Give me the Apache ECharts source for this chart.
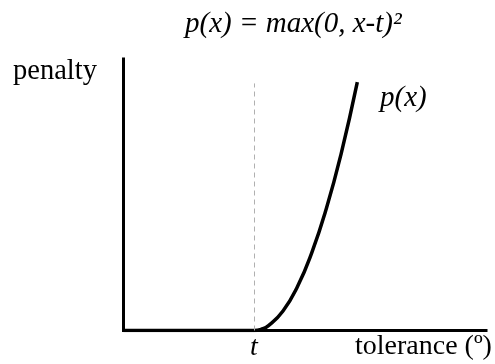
<!DOCTYPE html>
<html>
<head>
<meta charset="utf-8">
<script src="https://cdn.jsdelivr.net/npm/echarts@6/dist/echarts.min.js"></script>
<style>
  html, body { margin: 0; padding: 0; background: #fff; }
  #box { width: 495px; height: 364px; }
</style>
</head>
<body>
<div id="box"></div>
<script>
// values (x in % of axis length, y in % of axis height)
const tolerance = 36;
const penaltyX = [0, 36, 38, 40, 44, 48, 52, 56, 60, 64.5];
const penaltyY = [0, 0, 0.45, 1.8, 7.2, 16.2, 28.9, 45.1, 64.9, 91.5];
const dashTop = 91;

const serif = 'Liberation Serif, Times New Roman, serif';

const chartDom = document.getElementById('box');
const myChart = echarts.init(chartDom);

const axisCommon = {
  type: 'value',
  min: 0,
  max: 100,
  axisLine: { show: true, lineStyle: { color: '#000', width: 3, cap: 'square' } },
  axisTick: { show: false },
  axisLabel: { show: false },
  splitLine: { show: false }
};

const txt = (text, left, top, italic, size) => ({
  type: 'text', left: left, top: top,
  style: {
    text: text, fill: '#000',
    fontFamily: serif, fontSize: size,
    fontStyle: italic ? 'italic' : 'normal'
  }
});

var option = {
  animation: false,
  backgroundColor: '#fff',
  grid: {
    left: 123.5,
    right: 9,
    top: 59,
    bottom: 33.5
  },
  xAxis: axisCommon,
  yAxis: axisCommon,
  graphic: [
    txt('p(x) = max(0, x-t)²', 185, 10, true, 29),
    txt('penalty', 13, 57, false, 28.5),
    txt('p(x)', 380, 84, true, 29),
    txt('tolerance (º)', 355, 333, false, 28)
  ],
  series: [
    {
      type: 'line',
      data: penaltyX.map((x, i) => [x, penaltyY[i]]),
      showSymbol: false,
      smooth: true,
      lineStyle: { color: '#000', width: 3.5 },
      markLine: {
        silent: true,
        symbol: 'none',
        lineStyle: { color: '#b0b0b0', width: 1, type: [5, 4] },
        label: {
          show: true,
          position: 'start',
          formatter: 't',
          color: '#000',
          fontSize: 28,
          fontStyle: 'italic',
          fontFamily: serif,
          distance: 3
        },
        data: [[{ coord: [tolerance, 0] }, { coord: [tolerance, dashTop] }]]
      }
    }
  ]
};
option && myChart.setOption(option);
</script>
</body>
</html>
